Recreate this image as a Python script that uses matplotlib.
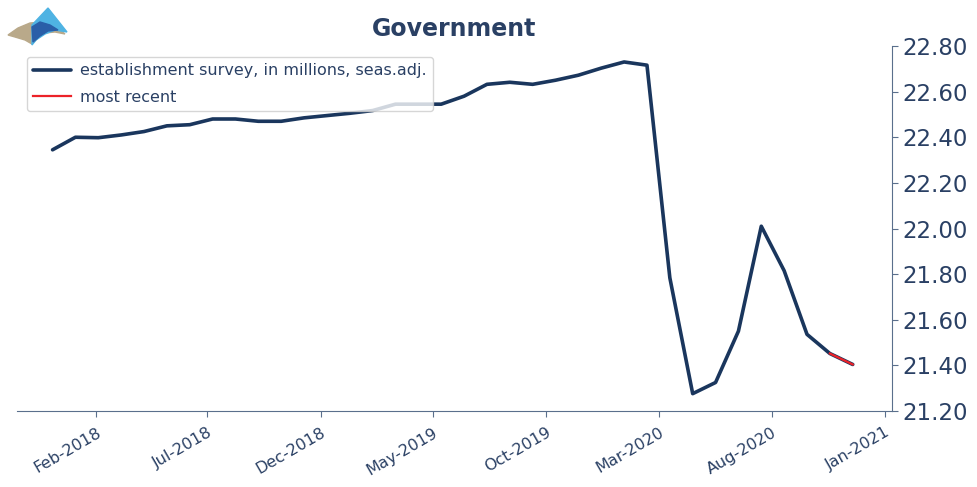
import numpy as np
import pandas as pd
import matplotlib
matplotlib.use("Agg")
import matplotlib.pyplot as plt
import matplotlib.dates as mdates
from matplotlib.patches import Polygon

# government employment, establishment survey (millions, seas. adj.), Jan-2018 .. Dec-2020
values = [22.345, 22.40, 22.398, 22.41, 22.425, 22.45, 22.455, 22.48, 22.48,
          22.47, 22.47, 22.485, 22.495, 22.505, 22.517, 22.545, 22.545, 22.545,
          22.58, 22.632, 22.641, 22.632, 22.65, 22.672, 22.703, 22.73, 22.716,
          21.784, 21.276, 21.325, 21.55, 22.01, 21.815, 21.536, 21.452, 21.404]
first_date = "2017-12-04"
last_date = "2020-11-18"
dates = pd.date_range(first_date, last_date, periods=len(values))

tick_dates = pd.date_range("2018-02-01", "2021-01-01", freq="5MS")
y_ticks = [21.2, 21.4, 21.6, 21.8, 22.0, 22.2, 22.4, 22.6, 22.8]

navy = "#1a365d"
txt = "#2a4064"
spine = "#5a6f8c"

fig = plt.figure(figsize=(9.77, 4.87), dpi=100)
ax = fig.add_axes([17 / 977, 1 - 411 / 487, 875 / 977, 365 / 487])

ax.plot(dates, values, color=navy, lw=2.6, solid_capstyle="round",
        label="establishment survey, in millions, seas.adj.")
ax.plot(dates[-2:], values[-2:], color="#ec2228", lw=1.6,
        label="most recent")

ax.set_xlim(pd.Timestamp("2017-10-17"), pd.Timestamp("2021-01-10"))
ax.set_ylim(21.2, 22.8)

ax.set_xticks(tick_dates)
ax.xaxis.set_major_formatter(mdates.DateFormatter("%b-%Y"))
for lab in ax.get_xticklabels():
    lab.set_rotation(30)
    lab.set_ha("right")
    lab.set_rotation_mode("anchor")

ax.yaxis.tick_right()
ax.set_yticks(y_ticks)
ax.set_yticklabels([f"{v:.2f}" for v in y_ticks])

ax.tick_params(axis="x", colors=spine, labelcolor=txt, labelsize=11.5, length=4, pad=6)
ax.tick_params(axis="y", colors=spine, labelcolor=txt, labelsize=16.5, length=4)

ax.spines["top"].set_visible(False)
ax.spines["left"].set_visible(False)
ax.spines["bottom"].set_color(spine)
ax.spines["right"].set_color(spine)

ax.set_title("Government", fontsize=17, fontweight="bold", color=txt, pad=7)

leg = ax.legend(loc="upper left", bbox_to_anchor=(0.011, 0.97), borderaxespad=0,
                fontsize=11.5, handlelength=2.4, handletextpad=0.55,
                labelspacing=0.7, framealpha=0.8)
for t in leg.get_texts():
    t.set_color(txt)
leg.get_frame().set_edgecolor("#cccccc")

# small logo, top left
def px(pts):
    return [(x / 977, 1 - y / 487) for x, y in pts]

fig.add_artist(Polygon(px([(8, 35), (18, 28), (30, 23), (42, 22), (52, 25), (60, 30),
                           (65, 34), (55, 32), (45, 33), (38, 38), (32, 44), (25, 40),
                           (15, 37)]),
                       closed=True, color="#b9a98a", transform=fig.transFigure))
fig.add_artist(Polygon(px([(32, 25), (48, 8), (67, 32), (55, 30), (45, 34), (36, 40),
                           (32, 45)]),
                       closed=True, color="#4fb3e3", transform=fig.transFigure))
fig.add_artist(Polygon(px([(32, 27), (40, 22), (50, 25), (58, 30), (48, 31), (40, 36),
                           (33, 42)]),
                       closed=True, color="#2a5fa8", transform=fig.transFigure))

fig.savefig("out.png", dpi=100)
